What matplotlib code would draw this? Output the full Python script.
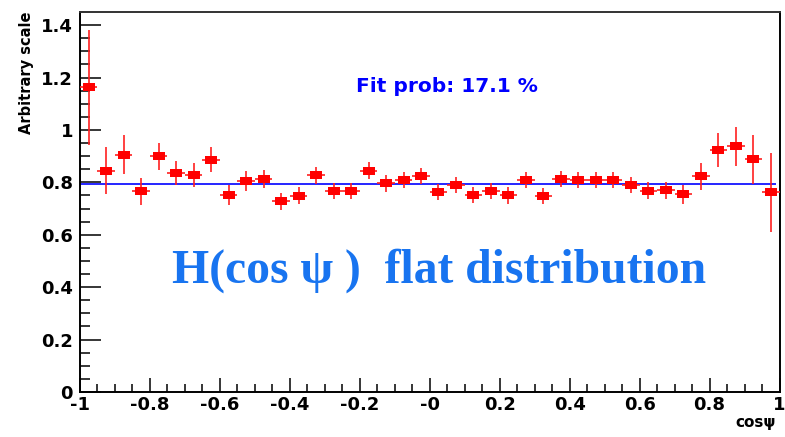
import matplotlib
matplotlib.use("Agg")
import matplotlib.pyplot as plt
from matplotlib.ticker import MultipleLocator, FixedLocator, FixedFormatter
import numpy as np

# 40 bins in cos(psi) from -1 to 1
bin_centers = np.arange(-0.975, 1.0, 0.05)
values = [1.162, 0.845, 0.906, 0.766, 0.899, 0.836, 0.829, 0.887, 0.753, 0.805,
          0.813, 0.728, 0.749, 0.827, 0.766, 0.768, 0.845, 0.796, 0.809, 0.824,
          0.763, 0.789, 0.753, 0.768, 0.750, 0.809, 0.748, 0.814, 0.808, 0.809,
          0.809, 0.790, 0.768, 0.769, 0.754, 0.823, 0.924, 0.937, 0.888, 0.762]
errors = [0.220, 0.090, 0.073, 0.052, 0.053, 0.046, 0.045, 0.046, 0.038, 0.037,
          0.036, 0.032, 0.032, 0.032, 0.031, 0.031, 0.034, 0.031, 0.031, 0.031,
          0.031, 0.031, 0.031, 0.031, 0.031, 0.031, 0.031, 0.031, 0.031, 0.031,
          0.031, 0.031, 0.033, 0.034, 0.036, 0.051, 0.064, 0.073, 0.094, 0.151]
half_width = 0.025
fit_value = 0.794
fit_range = (-1.0, 0.99)
fit_prob = 17.1

xticks = [-1, -0.8, -0.6, -0.4, -0.2, 0, 0.2, 0.4, 0.6, 0.8, 1]
xlabels = ["-1", "-0.8", "-0.6", "-0.4", "-0.2", "-0", "0.2", "0.4", "0.6", "0.8", "1"]
yticks = [0, 0.2, 0.4, 0.6, 0.8, 1.0, 1.2, 1.4]
ylabels = ["0", "0.2", "0.4", "0.6", "0.8", "1", "1.2", "1.4"]

fig = plt.figure(figsize=(7.85, 4.37), dpi=100)
ax = fig.add_axes([80 / 785, 45 / 437, 699.5 / 785, 380 / 437])

rect = [(-1, -0.7), (1, -0.7), (1, 0.7), (-1, 0.7), (-1, -0.7)]
ax.errorbar(bin_centers, values, yerr=errors, xerr=half_width, fmt="none",
            ecolor="#ff2020", elinewidth=1.2, capsize=0, zorder=3)
ax.plot(bin_centers, values, linestyle="none", marker=rect, markersize=9,
        color="#ff0000", markeredgewidth=0, zorder=4)
ax.hlines(fit_value, fit_range[0], fit_range[1], color="#0000ff", linewidth=1.2, zorder=2)

ax.set_xlim(-1, 1)
ax.set_ylim(0, 1.45)

ax.xaxis.set_major_locator(FixedLocator(xticks))
ax.xaxis.set_major_formatter(FixedFormatter(xlabels))
ax.xaxis.set_minor_locator(MultipleLocator(0.05))
ax.yaxis.set_major_locator(FixedLocator(yticks))
ax.yaxis.set_major_formatter(FixedFormatter(ylabels))
ax.yaxis.set_minor_locator(MultipleLocator(0.05))

lab_font = dict(family="DejaVu Sans", weight="heavy", size=13)
for lab in ax.get_xticklabels() + ax.get_yticklabels():
    lab.set_fontproperties(matplotlib.font_manager.FontProperties(**lab_font))

ax.tick_params(axis="y", which="major", direction="in", length=15, width=1.1, pad=5)
ax.tick_params(axis="y", which="minor", direction="in", length=7, width=1.1)
ax.tick_params(axis="x", which="major", direction="in", length=10, width=1.1, pad=3)
ax.tick_params(axis="x", which="minor", direction="in", length=6, width=1.1)
ax.tick_params(top=False, right=False, which="both")
for s in ax.spines.values():
    s.set_linewidth(1.4)
ax.spines["top"].set_color("#333333")

fig.text(26 / 785, 1 - 12 / 437, "Arbitrary scale", rotation=90, ha="center", va="top",
         family="DejaVu Sans", weight="heavy", size=10.5)
fig.text(776 / 785, 1 - 422 / 437, "cos\u03c8", ha="right", va="center",
         family="DejaVu Sans", weight="heavy", size=11)

ax.text(0.05, 1.165, "Fit prob: %.1f %%" % fit_prob, color="#0000ff", ha="center", va="center",
        family="DejaVu Sans", weight="heavy", size=14.5)
ax.text(0.028, 0.465, "H(cos \u03c8 )  flat distribution", color="#1874f0", ha="center",
        va="center", family="Liberation Serif", weight="bold", size=34.3)

fig.savefig("out.png", dpi=100)
